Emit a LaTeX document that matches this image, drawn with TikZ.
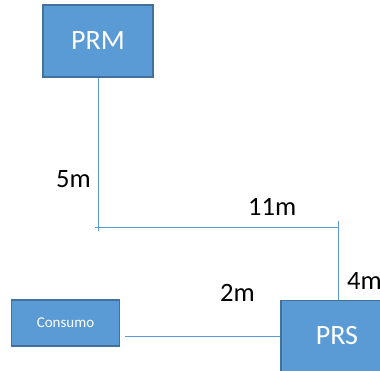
\documentclass[tikz,border=0pt]{standalone}
\usepackage{fontspec}
\setmainfont{Carlito}
\definecolor{boxfill}{HTML}{5B9BD5}
\definecolor{boxedge}{HTML}{41719C}
\definecolor{pipe}{HTML}{5B9BD5}
\begin{document}
\begin{tikzpicture}[x=1pt,y=1pt,
  unit/.style={draw=boxedge,line width=1.6pt,fill=boxfill,text=white,inner sep=0pt},
  pipeline/.style={draw=pipe,line width=0.9pt},
  dist/.style={font=\fontsize{26.5}{26.5}\selectfont,text=black,inner sep=0pt}]
\clip (0,0) rectangle (380,-371);
\fill[white] (0,0) rectangle (380,-371);
% units
\node[unit,minimum width=110,minimum height=72,font=\fontsize{28}{28}\selectfont] (prm) at (98,-41) {PRM};
\node[unit,minimum width=108,minimum height=46,font=\fontsize{15}{15}\selectfont] (cons) at (65.5,-323) {Consumo};
\node[unit,minimum width=112,minimum height=71,font=\fontsize{28}{28}\selectfont] (prs) at (337,-336) {PRS};
% pipe junctions
\coordinate (c1) at (98,-231);
\coordinate (h1) at (95,-227);
\coordinate (h2) at (338,-227);
\coordinate (v1) at (338,-221);
\coordinate (cout) at (125,-336);
% pipe runs
\draw[pipeline] (prm.south) -- (c1);
\draw[pipeline] (h1) -- (h2);
\draw[pipeline] (v1) -- (v1 |- prs.north);
\draw[pipeline] (cout) -- (prs.west);
% distances
\node[dist,anchor=west] (d5) at (56,-179) {5m};
\node[dist,anchor=west] (d11) at (248,-207) {11m};
\node[dist,anchor=west] (d2) at (220,-293) {2m};
\node[dist,anchor=west] (d4) at (347,-281) {4m};
\end{tikzpicture}
\end{document}
